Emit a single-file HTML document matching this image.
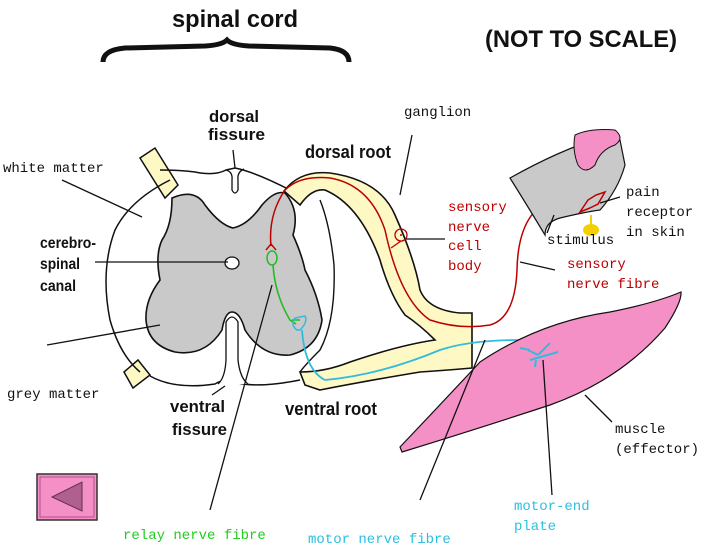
<!DOCTYPE html>
<html><head><meta charset="utf-8"><style>
html,body{margin:0;padding:0;background:#fff;}
svg{display:block;}
.h{font-family:"Liberation Sans Narrow","Liberation Sans",sans-serif;font-weight:bold;fill:#111;}
.m{font-family:"Liberation Mono",monospace;font-size:14px;}
</style></head><body>
<svg width="728" height="546" viewBox="0 0 728 546" xmlns="http://www.w3.org/2000/svg">
<rect width="728" height="546" fill="#fff"/>
<text class="h" x="172" y="27" font-size="24" textLength="126" lengthAdjust="spacingAndGlyphs">spinal cord</text>
<path d="M103 62 Q103 50 125 48 L205 46 Q222 45 227 40 Q232 45 249 46 L330 48 Q349 50 349 62" fill="none" stroke="#111" stroke-width="5"/>
<text class="h" x="485" y="47" font-size="24" textLength="192" lengthAdjust="spacingAndGlyphs">(NOT TO SCALE)</text>

<path d="M140 158 L155 148 L178 185 L165 198 Z" fill="#fdf8c4" stroke="#111" stroke-width="1.5"/>
<path d="M124 372 L138 360 L150 375 L133 388 Z" fill="#fdf8c4" stroke="#111" stroke-width="1.5"/>
<path d="M170 180 Q130 200 115 230 Q100 270 110 320 Q120 355 140 372 M150 376 Q175 390 215 384 Q228 376 238 383 Q260 388 300 380 M160 170 Q180 170 195 172 Q215 176 226 170 L235 168 Q255 172 290 190" fill="none" stroke="#111" stroke-width="1.5"/>
<path d="M226 170 Q233 172 232 180 L232 190 Q235 196 238 190 L238 180 Q237 172 244 169" fill="none" stroke="#111" stroke-width="1.3"/>

<path d="M284 191 Q300 170 330 173 Q380 180 395 215 Q415 260 420 290 Q428 310 460 313 L472 313 L472 368 Q450 370 420 372 Q360 382 320 390 L305 385 L300 372 Q325 372 350 362 Q400 345 435 340 Q420 325 405 315 Q390 295 380 260 Q360 205 325 190 Q312 188 300 205 Z" fill="#fdf8c4" stroke="#111" stroke-width="1.6"/>
<path d="M320 200 Q330 225 334 265 Q336 320 320 350 Q305 365 300 372" fill="none" stroke="#111" stroke-width="1.4"/>

<path d="M172 198 Q195 188 205 205 Q220 225 233 228 Q248 225 262 205 Q275 190 285 193 Q300 210 293 235 Q302 255 305 270 Q318 295 322 320 Q318 348 290 355 Q262 357 245 330 Q240 312 232 312 Q225 312 222 330 Q205 357 175 352 Q148 345 146 320 Q145 300 160 280 Q155 255 162 240 Q172 225 172 198 Z" fill="#c9c9c9" stroke="#111" stroke-width="1.6"/>
<ellipse cx="232" cy="263" rx="7" ry="6" fill="#fff" stroke="#111" stroke-width="1.3"/>
<path d="M218 384 Q225 378 226 360 L226 322 Q232 312 238 322 L238 360 Q240 378 248 384" fill="#fff" stroke="#111" stroke-width="1.3"/>

<circle cx="401" cy="235" r="6" fill="none" stroke="#b00" stroke-width="1.3"/>
<circle cx="401" cy="235" r="1" fill="#b00"/>
<path d="M271 246 Q268 215 285 190 Q300 175 330 178 Q370 185 385 230 Q400 300 430 320 Q460 330 490 325 Q515 318 517 270 Q518 215 550 200 L585 198" fill="none" stroke="#b00" stroke-width="1.5"/>
<path d="M391 248 L401 241" stroke="#b00" stroke-width="1.3"/>
<path d="M266 250 L271 244 L276 250" fill="none" stroke="#b00" stroke-width="1.4"/>
<ellipse cx="272" cy="258" rx="5" ry="7" fill="none" stroke="#2b2" stroke-width="1.5"/>
<path d="M273 265 Q275 295 290 320 L296 324 M292 320 L300 320" fill="none" stroke="#2b2" stroke-width="1.6"/>
<path d="M297 330 Q290 325 295 318 L305 316 Q308 322 300 330 Z" fill="none" stroke="#3bd" stroke-width="1.5"/>
<path d="M302 330 Q305 370 325 380 Q380 375 440 350 Q470 340 520 340 Q535 340 538 355" fill="none" stroke="#3bd" stroke-width="1.8"/>

<path d="M400 447 Q440 405 480 362 Q540 322 610 312 Q655 303 681 292 Q682 302 665 328 Q620 380 550 405 Q480 428 402 452 Z" fill="#f590c6" stroke="#111" stroke-width="1.2"/>
<path d="M538 355 L528 350 M538 355 L550 343 M530 360 L558 352 M536 360 L535 367 M520 348 L530 350" fill="none" stroke="#3bd" stroke-width="2"/>

<path d="M510 178 Q560 150 600 138 L620 140 L625 165 Q618 190 600 210 Q585 212 560 218 Q545 222 545 235 Q530 210 510 178 Z" fill="#c9c9c9" stroke="#111" stroke-width="1.2"/>
<path d="M575 135 Q590 128 615 130 Q625 138 615 145 Q600 150 595 165 Q585 175 578 165 Q572 150 575 135 Z" fill="#f590c6" stroke="#111" stroke-width="1"/>
<path d="M580 212 L588 200 L596 195 L605 192 L598 204 L590 208 Z" fill="none" stroke="#b00" stroke-width="1.5"/>
<ellipse cx="591" cy="230" rx="8" ry="6" fill="#f5d000"/>
<path d="M591 215 L591 228" stroke="#f5d000" stroke-width="2"/>

<g stroke="#111" stroke-width="1.3" fill="none">
<path d="M62 180 L142 217"/>
<path d="M95 262 L228 262"/>
<path d="M47 345 L160 325"/>
<path d="M233 150 L235 168"/>
<path d="M412 135 L400 195"/>
<path d="M406 239 L445 239"/>
<path d="M520 262 L555 270"/>
<path d="M620 197 L600 203"/>
<path d="M547 233 L554 215"/>
<path d="M612 422 L585 395"/>
<path d="M552 495 L543 360"/>
<path d="M210 510 L272 285"/>
<path d="M420 500 L485 340"/>
<path d="M212 395 L225 386"/>
</g>

<text class="h" x="209" y="122" font-size="17" textLength="50" lengthAdjust="spacingAndGlyphs">dorsal</text>
<text class="h" x="208" y="140" font-size="17" textLength="57" lengthAdjust="spacingAndGlyphs">fissure</text>
<text class="h" x="305" y="158" font-size="18" textLength="86" lengthAdjust="spacingAndGlyphs">dorsal root</text>
<text class="h" x="40" y="248" font-size="16" textLength="56" lengthAdjust="spacingAndGlyphs">cerebro-</text>
<text class="h" x="40" y="269" font-size="16" textLength="40" lengthAdjust="spacingAndGlyphs">spinal</text>
<text class="h" x="40" y="291" font-size="16" textLength="36" lengthAdjust="spacingAndGlyphs">canal</text>
<text class="h" x="170" y="412" font-size="17" textLength="55" lengthAdjust="spacingAndGlyphs">ventral</text>
<text class="h" x="172" y="435" font-size="17" textLength="55" lengthAdjust="spacingAndGlyphs">fissure</text>
<text class="h" x="285" y="415" font-size="18" textLength="92" lengthAdjust="spacingAndGlyphs">ventral root</text>

<text class="m" x="3" y="172" fill="#111">white matter</text>
<text class="m" x="7" y="398" fill="#111">grey matter</text>
<text class="m" x="404" y="116" fill="#111" font-size="13">ganglion</text>
<text class="m" x="448" y="211" fill="#b00">sensory</text>
<text class="m" x="448" y="231" fill="#b00">nerve</text>
<text class="m" x="448" y="250" fill="#b00">cell</text>
<text class="m" x="448" y="270" fill="#b00">body</text>
<text class="m" x="626" y="196" fill="#111">pain</text>
<text class="m" x="626" y="216" fill="#111">receptor</text>
<text class="m" x="626" y="236" fill="#111">in skin</text>
<text class="m" x="547" y="244" fill="#111">stimulus</text>
<text class="m" x="567" y="268" fill="#b00">sensory</text>
<text class="m" x="567" y="288" fill="#b00">nerve fibre</text>
<text class="m" x="615" y="433" fill="#111">muscle</text>
<text class="m" x="615" y="453" fill="#111">(effector)</text>
<text class="m" x="514" y="510" fill="#2ac0e0">motor-end</text>
<text class="m" x="514" y="530" fill="#2ac0e0">plate</text>
<text class="m" x="123" y="539" fill="#2c2">relay nerve fibre</text>
<text class="m" x="308" y="543" fill="#2ac0e0">motor nerve fibre</text>

<rect x="37" y="474" width="60" height="46" fill="#f590c6" stroke="#333" stroke-width="1.5"/>
<rect x="40" y="477" width="54" height="40" fill="none" stroke="#b05090" stroke-width="1"/>
<path d="M82 482 L82 511 L52 497 Z" fill="#b06090" stroke="#603050" stroke-width="1"/>
</svg>
</body></html>
